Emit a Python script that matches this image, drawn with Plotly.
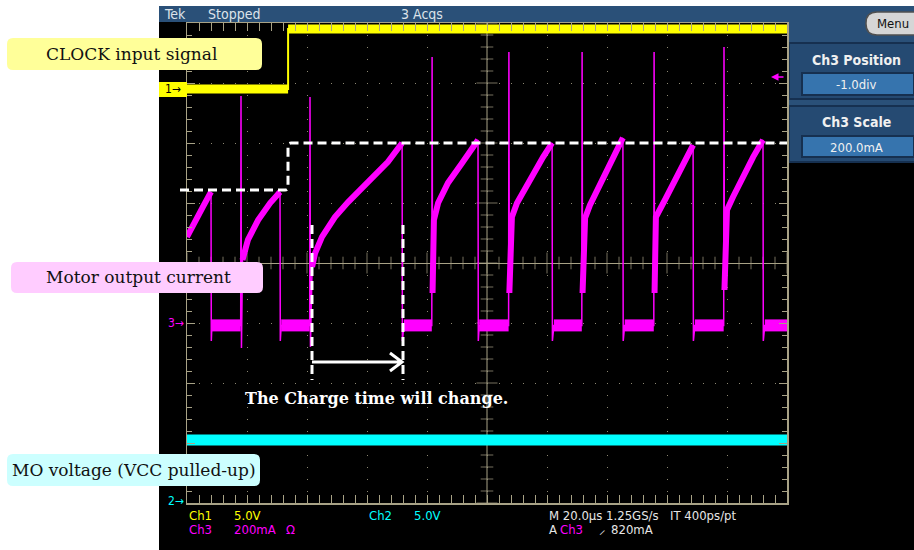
import numpy as np
import plotly.graph_objects as go

# ---------------- data ----------------
time_range_us = [0.0, 200.0]          # 20 us/div, 10 divisions

ch1_t_us = [0.0, 33.7, 33.7, 200.0]   # CLOCK input (Ch1, 5 V/div)
ch1_v = [0.0, 0.0, 5.0, 5.0]

ch2_t_us = [0.0, 200.0]               # MO voltage (Ch2, 5 V/div)
ch2_v = [5.0, 5.0]

# Ch3 motor current (200 mA/div): charging ramps
ramp_t_us = [
    [0.0, 2.7, 5.3, 8.0],
    [18.5, 20.3, 23.7, 27.7, 31.0],
    [41.7, 42.7, 45.0, 49.3, 53.7, 60.3, 67.0, 71.7],
    [82.3, 83.7, 87.0, 91.7, 97.0],
    [108.3, 110.0, 112.0, 115.3, 118.7, 121.7],
    [132.7, 134.3, 136.0, 138.7, 142.0, 145.3],
    [156.3, 159.3, 162.7, 166.0, 168.7],
    [180.0, 182.0, 185.3, 188.7, 192.0],
]
ramp_ma = [
    [287, 343, 387, 437],
    [210, 277, 343, 400, 437],
    [187, 233, 287, 353, 403, 467, 537, 600],
    [343, 400, 467, 533, 610],
    [353, 400, 437, 500, 553, 600],
    [350, 393, 427, 477, 550, 617],
    [353, 410, 477, 543, 593],
    [377, 420, 487, 553, 610],
]
low_start_us = [8.3, 31.4, 72.3, 97.4, 122.3, 145.9, 169.3, 192.6]
low_end_us = [17.9, 40.9, 81.6, 107.2, 131.6, 155.6, 178.9, 200.0]
low_ma = -8
drop_ma = -60
spike_t_us = [18.0, 41.0, 81.7, 107.3, 131.7, 155.7, 179.0]
spike_ma = [757, 753, 887, 903, 903, 903, 920]
spike_min_ma = [-83, -80, 100, 100, 100, 100, 110]

# channel settings
ch1_scale_v, ch1_ground_div = 5.0, 2.9
ch2_scale_v, ch2_ground_div = 5.0, -3.95
ch3_scale_ma, ch3_ground_div = 200.0, -1.0
trigger_ma = 820

# ---------------- build traces ----------------
t3, i3 = [], []
for k in range(len(ramp_t_us)):
    t3 += ramp_t_us[k]
    i3 += ramp_ma[k]
    te = ramp_t_us[k][-1]
    t3 += [te + 0.1, low_start_us[k], low_end_us[k]]
    i3 += [drop_ma, low_ma, low_ma]
    if k < len(spike_t_us):
        ts = spike_t_us[k]
        t3 += [ts, ts + 0.15]
        i3 += [spike_ma[k], spike_min_ma[k]]

ramp_x, ramp_y = [], []
for k, (tt, ii) in enumerate(zip(ramp_t_us, ramp_ma)):
    if k > 0 and spike_min_ma[k - 1] > 0:  # thick rising edge into the ramp
        ramp_x += [spike_t_us[k - 1] + 0.15]
        ramp_y += [spike_min_ma[k - 1]]
    ramp_x += tt + [None]
    ramp_y += ii + [None]
low_x, low_y = [], []
for s, e in zip(low_start_us, low_end_us):
    low_x += [s, e, None]
    low_y += [low_ma, low_ma, None]

lvl_x, lvl_y = [], []
for j in range(len(ch1_v) - 1):
    if ch1_v[j] == ch1_v[j + 1]:
        lvl_x += [ch1_t_us[j], ch1_t_us[j + 1], None]
        lvl_y += [ch1_v[j], ch1_v[j + 1], None]


def ch_range(scale, ground):
    return [(-4 - ground) * scale, (4 - ground) * scale]


# ---------------- geometry helpers (pixels -> paper) ----------------
W, H = 914, 550
PL, PR, PT, PB = 187, 787, 23, 503


def fx(px):
    return (px - PL) / (PR - PL)


def fy(py):
    return (PB - py) / (PB - PT)


def rrect(x0, y0, x1, y1, r):
    return (f"M {fx(x0 + r)},{fy(y0)} L {fx(x1 - r)},{fy(y0)} "
            f"Q {fx(x1)},{fy(y0)} {fx(x1)},{fy(y0 + r)} L {fx(x1)},{fy(y1 - r)} "
            f"Q {fx(x1)},{fy(y1)} {fx(x1 - r)},{fy(y1)} L {fx(x0 + r)},{fy(y1)} "
            f"Q {fx(x0)},{fy(y1)} {fx(x0)},{fy(y1 - r)} L {fx(x0)},{fy(y0 + r)} "
            f"Q {fx(x0)},{fy(y0)} {fx(x0 + r)},{fy(y0)} Z")


def rect(x0, y0, x1, y1, fill, line=None, lw=0, layer="below"):
    return dict(type="rect", xref="paper", yref="paper", x0=fx(x0), x1=fx(x1),
                y0=fy(y1), y1=fy(y0), fillcolor=fill, layer=layer,
                line=dict(color=line or fill, width=lw))


GRID = "#a8a286"
SCOPE_FONT = "Liberation Sans Narrow, DejaVu Sans Condensed, Arial Narrow, sans-serif"
SERIF = "DejaVu Serif, Liberation Serif, serif"

fig = go.Figure()

# centre-cross tick marks
cx = np.arange(0, 200.01, 4)
fig.add_trace(go.Scatter(x=cx, y=np.zeros_like(cx), mode="markers", hoverinfo="skip",
                         marker=dict(symbol="line-ns", size=[15 if (v % 20 == 0) else 9 for v in cx],
                                     line=dict(color=GRID, width=1)), showlegend=False))
cy = np.round(np.arange(-4, 4.001, 0.2), 2)
fig.add_trace(go.Scatter(x=np.full_like(cy, 100.0), y=cy, mode="markers", hoverinfo="skip",
                         marker=dict(symbol="line-ew", size=[15 if abs(v - round(v)) < 1e-6 else 9 for v in cy],
                                     line=dict(color=GRID, width=1)), showlegend=False))

# Ch2 (cyan)
fig.add_trace(go.Scatter(x=ch2_t_us, y=ch2_v, yaxis="y3", mode="lines",
                         line=dict(color="#00ffff", width=11), showlegend=False))
# Ch1 (yellow)
fig.add_trace(go.Scatter(x=ch1_t_us, y=ch1_v, yaxis="y2", mode="lines",
                         line=dict(color="#ffff00", width=2), showlegend=False))
fig.add_trace(go.Scatter(x=lvl_x, y=lvl_y, yaxis="y2", mode="lines",
                         line=dict(color="#ffff00", width=9), showlegend=False))
# Ch3 (magenta)
fig.add_trace(go.Scatter(x=t3, y=i3, yaxis="y4", mode="lines",
                         line=dict(color="#ff00ff", width=1.5), showlegend=False))
fig.add_trace(go.Scatter(x=low_x, y=low_y, yaxis="y4", mode="lines",
                         line=dict(color="#ff00ff", width=12), showlegend=False))
fig.add_trace(go.Scatter(x=ramp_x, y=ramp_y, yaxis="y4", mode="lines",
                         line=dict(color="#ff00ff", width=6), showlegend=False))

shapes = [
    rect(159, 22, 914, 550, "#000000"),
    rect(159, 6, 914, 22, "#2a5078"),
    rect(787, 6, 914, 162, "#2a5078"),
    rect(789, 43, 916, 99, "#254a72", "#163050", 2),
    rect(789, 106, 916, 162, "#254a72", "#163050", 2),
    rect(802, 73, 914, 95, "#3674ae", "#163050", 2),
    rect(802, 136, 914, 157, "#3674ae", "#163050", 2),
    dict(type="path", xref="paper", yref="paper", path=rrect(866, 12, 930, 35, 11),
         fillcolor="#d6d6d6", line=dict(color="#505050", width=1.5), layer="below"),
    dict(type="line", xref="x", yref="paper", x0=100, x1=100, y0=0, y1=1,
         line=dict(color=GRID, width=1), layer="below"),
]

# white dashed annotation lines
dash = "9px,5px"
shapes.append(dict(type="path", xref="paper", yref="paper", layer="above",
                   path=(f"M {fx(180)},{fy(190)} L {fx(285)},{fy(190)} Q {fx(288)},{fy(190)} {fx(288)},{fy(187)} "
                         f"L {fx(288)},{fy(146)} Q {fx(288)},{fy(143)} {fx(291)},{fy(143)} L {fx(787)},{fy(143)}"),
                   line=dict(color="white", width=3, dash=dash)))
for xv in (312, 403):
    shapes.append(dict(type="line", xref="paper", yref="paper", layer="above",
                       x0=fx(xv), x1=fx(xv), y0=fy(225), y1=fy(380),
                       line=dict(color="white", width=3, dash=dash)))
shapes.append(dict(type="path", xref="paper", yref="paper", layer="above",
                   path=(f"M {fx(312)},{fy(362)} L {fx(402)},{fy(362)} "
                         f"M {fx(390)},{fy(353)} L {fx(402)},{fy(362)} L {fx(390)},{fy(371)}"),
                   line=dict(color="white", width=3)))

# label boxes
shapes.append(dict(type="path", xref="paper", yref="paper", layer="above",
                   path=rrect(7, 38, 262, 70, 6), fillcolor="#ffff99", line=dict(width=0)))
shapes.append(dict(type="path", xref="paper", yref="paper", layer="above",
                   path=rrect(11, 262, 263, 293, 6), fillcolor="#ffccff", line=dict(width=0)))
shapes.append(dict(type="path", xref="paper", yref="paper", layer="above",
                   path=rrect(7, 454, 260, 486, 6), fillcolor="#ccffff", line=dict(width=0)))
shapes.append(rect(159, 82, 187, 97, "#ffff00", layer="above"))

annotations = []


def ann(text, px, py, color, size, family=SCOPE_FONT, xanchor="left"):
    annotations.append(dict(text=text, x=fx(px), y=fy(py), xref="paper", yref="paper",
                            xanchor=xanchor, yanchor="middle", showarrow=False,
                            font=dict(color=color, size=size, family=family)))


# labels
ann("CLOCK input signal", 131, 54, "#111111", 17, SERIF, "center")
ann("Motor output current", 138, 277, "#111111", 17, SERIF, "center")
ann("MO voltage (VCC pulled-up)", 134, 470, "#111111", 17, SERIF, "center")
ann("<b>The Charge time will change.</b>", 376, 398, "white", 16, SERIF, "center")

# scope header
ann("Tek", 162, 14, "#dde3ea", 14)
ann("Stopped", 206, 14, "#dde3ea", 14)
ann("3 Acqs", 399, 14, "#dde3ea", 14)
ann("Menu", 893, 24, "#111111", 13, xanchor="center")
ann("<b>Ch3 Position</b>", 856, 60, "#f0f0f0", 14, xanchor="center")
ann("-1.0div", 856, 84, "#f0f0f0", 13, xanchor="center")
ann("<b>Ch3 Scale</b>", 856, 122, "#f0f0f0", 14, xanchor="center")
ann("200.0mA", 856, 147, "#f0f0f0", 13, xanchor="center")

# channel markers
ann("1→", 163, 89, "#000000", 12)
ann("3→", 186, 323, "#ff00ff", 12, xanchor="right")
ann("2→", 186, 501, "#00ffff", 12, xanchor="right")
annotations.append(dict(text="", x=fx(771), y=fy(77), ax=14, ay=0, xref="paper", yref="paper",
                        showarrow=True, arrowhead=2, arrowsize=1, arrowwidth=1.5, arrowcolor="#ff00ff"))

# bottom readouts
ann("Ch1", 187, 515, "#ffff00", 13)
ann("5.0V", 232, 515, "#ffff00", 13)
ann("Ch2", 367, 515, "#00ffff", 13)
ann("5.0V", 412, 515, "#00ffff", 13)
ann("M 20.0µs 1.25GS/s", 547, 515, "#e6e6e6", 13)
ann("IT 400ps/pt", 668, 515, "#e6e6e6", 13)
ann("Ch3", 187, 529, "#ff00ff", 13)
ann("200mA", 232, 529, "#ff00ff", 13)
ann("Ω", 284, 529, "#ff00ff", 13)
ann("A", 547, 529, "#e6e6e6", 13)
ann("Ch3", 558, 529, "#ff00ff", 13)
ann("⸝", 597, 529, "#e6e6e6", 13)
ann(f"{trigger_ma}mA", 609, 529, "#e6e6e6", 13)

axis_common = dict(showticklabels=False, showline=True, linecolor=GRID, linewidth=1.5,
                   mirror="allticks", ticks="inside", ticklen=8, tickcolor=GRID,
                   showgrid=True, gridcolor="#8c8772", griddash="1px,11px", gridwidth=1,
                   zeroline=False, fixedrange=True)

fig.update_layout(
    width=W, height=H,
    margin=dict(l=PL, r=W - PR, t=PT, b=H - PB, pad=0),
    paper_bgcolor="white", plot_bgcolor="black",
    showlegend=False,
    xaxis=dict(range=time_range_us, dtick=20, tick0=0,
               minor=dict(dtick=4, ticks="inside", ticklen=5, tickcolor=GRID, showgrid=False),
               **axis_common),
    yaxis=dict(range=[-4, 4], dtick=1, tick0=0,
               minor=dict(dtick=0.2, ticks="inside", ticklen=5, tickcolor=GRID, showgrid=False),
               **{**axis_common, "zeroline": True, "zerolinecolor": GRID, "zerolinewidth": 1}),
    yaxis2=dict(range=ch_range(ch1_scale_v, ch1_ground_div), overlaying="y", visible=False, fixedrange=True),
    yaxis3=dict(range=ch_range(ch2_scale_v, ch2_ground_div), overlaying="y", visible=False, fixedrange=True),
    yaxis4=dict(range=ch_range(ch3_scale_ma, ch3_ground_div), overlaying="y", visible=False, fixedrange=True),
    shapes=shapes,
    annotations=annotations,
)

fig.write_html("out.html", config={"staticPlot": True},
               post_script="document.body.style.margin='0';document.body.style.overflow='hidden';")
